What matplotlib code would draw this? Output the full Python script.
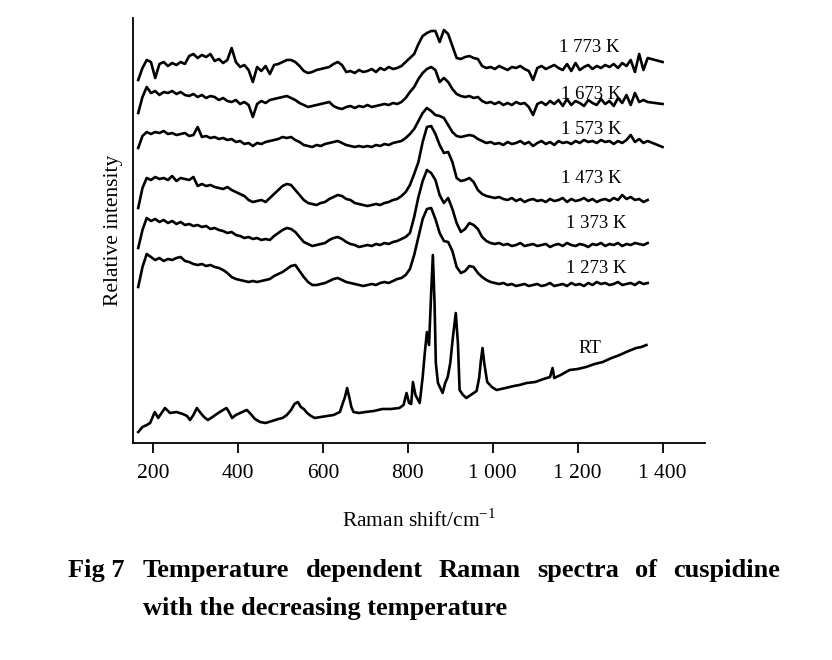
import matplotlib.pyplot as plt
import numpy as np

plt.rcParams['font.family'] = ['Liberation Serif', 'DejaVu Serif']

# Raman shift grid (cm-1) shared by the high temperature spectra
shift = np.arange(165, 1366, 10)

# intensities relative to each curve's own baseline
i1773 = [-12, 0, 8, 6, -10, 4, 6, 2, 5, 3,
         6, 4, 12, 14, 10, 13, 11, 14, 7, 9,
         5, 8, 20, 6, 1, 3, -2, -14, 1, -3,
         2, -6, 3, 4, 6, 8, 8, 6, 2, -3,
         -5, -4, -2, -1, 0, 1, 4, 6, 3, -4,
         -3, -5, -2, -4, -3, -1, -4, 0, -2, 1,
         -1, 0, 2, 6, 10, 14, 24, 32, 35, 37,
         37, 26, 38, 34, 22, 10, 9, 11, 12, 10,
         9, 2, 0, 1, -1, 2, 0, -2, 1, 0,
         2, -1, -3, -12, 0, 2, -1, 1, 3, 0,
         -2, 4, -3, 5, -2, 1, 3, -1, 2, 0,
         3, 1, 4, 0, 5, 2, 8, -4, 14, -2,
         10]
i1673 = [-10, 6, 16, 10, 12, 8, 11, 10, 12, 9,
         11, 8, 7, 9, 6, 8, 5, 7, 6, 3,
         5, 2, 1, 3, -1, 1, -2, -14, -1, 2,
         0, 3, 4, 5, 6, 7, 5, 3, 0, -2,
         -4, -3, -2, -1, 0, 1, -3, -5, -6, -4,
         -3, -5, -3, -4, -2, -4, -3, -2, -1, -2,
         0, -1, 1, 5, 11, 16, 24, 30, 34, 36,
         33, 21, 25, 21, 14, 9, 7, 6, 7, 5,
         6, 2, 0, 1, -1, 1, -2, 0, -2, 1,
         -1, 0, -4, -12, -1, 1, -2, 2, -1, 3,
         -3, 4, -2, 2, 0, -3, 3, 0, -2, 4,
         -1, 2, -3, 5, 0, 8, -2, 10, 1, 3,
         1]
i1573 = [-5, 7, 11, 9, 11, 10, 12, 9, 10, 8,
         9, 10, 7, 8, 16, 6, 7, 5, 6, 4,
         5, 3, 4, 1, 2, -1, 0, -3, 0, -1,
         1, 2, 3, 4, 6, 5, 6, 3, 1, -2,
         -3, -4, -2, -3, -1, 0, 1, 2, 0, -2,
         -3, -4, -3, -4, -3, -4, -2, -3, -1, -2,
         0, 1, 2, 5, 9, 14, 22, 30, 35, 32,
         28, 27, 25, 18, 11, 7, 6, 7, 8, 7,
         4, 2, 0, 1, -1, 0, -2, 1, -1, 0,
         2, -1, 1, -3, 0, 2, -1, 1, -2, 2,
         0, 1, -1, 2, 0, 3, 1, 2, 0, 3,
         1, 2, -1, 2, 0, 3, 8, 1, 4, 0,
         2]
i1473 = [-8, 12, 22, 20, 23, 21, 22, 20, 24, 19,
         22, 21, 20, 23, 14, 16, 14, 15, 13, 12,
         11, 13, 10, 8, 6, 4, 0, -2, -1, 0,
         -2, 2, 6, 10, 14, 16, 15, 10, 5, 0,
         -3, -4, -5, -3, -2, 1, 3, 5, 4, 1,
         0, -3, -4, -5, -6, -5, -4, -5, -3, -2,
         0, 1, 4, 8, 15, 26, 38, 58, 73, 74,
         66, 55, 47, 48, 38, 22, 19, 20, 22, 18,
         10, 6, 4, 3, 2, 3, 1, 0, 2, -1,
         1, -2, 0, 1, -1, 0, -2, 1, -1, 0,
         2, -2, 1, -1, 0, 2, -1, 1, -2, 0,
         1, -1, 2, 0, 5, 1, 3, 0, 1, -2,
         0]
i1373 = [-3, 15, 27, 24, 26, 23, 25, 22, 24, 21,
         23, 20, 21, 19, 20, 18, 19, 16, 17, 15,
         14, 12, 13, 10, 9, 7, 8, 6, 7, 5,
         6, 5, 9, 12, 15, 17, 16, 13, 8, 3,
         1, -1, 0, 1, 2, 5, 7, 8, 6, 3,
         1, 0, -2, -1, 0, -1, 1, 0, 2, 1,
         3, 4, 6, 8, 12, 28, 48, 64, 75, 72,
         65, 50, 42, 47, 36, 22, 13, 16, 22, 20,
         16, 8, 4, 2, 1, 2, 0, 1, -1, 0,
         2, -1, 0, 1, -1, 0, 1, -2, 0, 1,
         -1, 2, 0, -1, 1, 0, -2, 1, 0, 2,
         -1, 1, 0, 2, -1, 1, 0, 2, 1, 0,
         2]
i1273 = [-2, 18, 31, 28, 25, 27, 24, 26, 25, 27,
         28, 24, 23, 21, 20, 21, 19, 20, 18, 17,
         15, 12, 8, 6, 5, 4, 3, 4, 3, 4,
         5, 6, 9, 11, 13, 16, 19, 20, 14, 8,
         3, 0, 0, 1, 2, 4, 6, 7, 5, 3,
         2, 1, 0, -1, 0, 1, 0, 2, 3, 2,
         4, 6, 7, 10, 16, 30, 48, 66, 76, 77,
         66, 52, 44, 43, 34, 18, 12, 14, 19, 18,
         12, 8, 5, 3, 2, 1, 2, 0, 1, -1,
         0, 1, -1, 0, 1, -1, 0, 2, -1, 0,
         1, -1, 2, 0, 1, -1, 2, 0, 3, 1,
         2, 0, 1, 3, 0, 1, 2, 0, 3, 1,
         2]

# room temperature spectrum, own shift list because of the sharp peaks
rt_shift = [165, 175, 185, 193, 204, 212, 220, 228, 240, 255,
            270, 280, 287, 295, 303, 312, 320, 329, 340, 350,
            357, 365, 373, 380, 386, 395, 405, 415, 421, 430,
            440, 452, 465, 480, 495, 505, 515, 525, 533, 541,
            548, 555, 563, 572, 581, 595, 610, 625, 640, 647,
            652, 657, 662, 667, 672, 685, 700, 720, 740, 760,
            780, 790, 797, 803, 808, 812, 818, 828, 835, 840,
            845, 850, 855, 859, 863, 866, 871, 882, 888, 894,
            900, 906, 913, 918, 922, 930, 938, 948, 955, 962,
            968, 972, 976, 980, 987, 998, 1009, 1030, 1050, 1063,
            1080, 1100, 1120, 1135, 1141, 1145, 1160, 1181, 1200, 1220,
            1240, 1259, 1280, 1299, 1320, 1338, 1350, 1362]
rt_intensity = [11, 16, 18, 20, 31, 25, 30, 35, 30, 31,
                29, 27, 23, 28, 35, 30, 26, 23, 26, 29,
                31, 33, 35, 30, 25, 28, 30, 32, 33, 29,
                24, 21, 20, 22, 24, 25, 28, 33, 39, 41,
                36, 34, 30, 27, 25, 26, 27, 28, 31, 40,
                46, 55, 46, 36, 31, 30, 31, 32, 34, 34,
                35, 38, 50, 40, 39, 61, 48, 40, 66, 90,
                111, 98, 150, 188, 140, 80, 60, 50, 60, 66,
                80, 105, 130, 100, 53, 48, 45, 48, 50, 52,
                65, 82, 95, 80, 61, 56, 53, 55, 57, 58,
                60, 61, 64, 66, 75, 65, 68, 73, 74, 76,
                79, 81, 85, 88, 92, 95, 96, 98]

labels = ['1 773 K', '1 673 K', '1 573 K', '1 473 K', '1 373 K', '1 273 K']
curves = [i1773, i1673, i1573, i1473, i1373, i1273]
offsets = [375, 340, 300, 243, 198, 158]
# the three hottest spectra end with a straight segment out to 1400
tail_shift = 1400
tail_values = [6, -1, -4]

label_pos = [(1228, 396), (1233, 349), (1233, 314), (1233, 265),
             (1245, 220), (1245, 175)]
rt_label_pos = (1228, 95)

fig = plt.figure(figsize=(8.32, 6.6), dpi=100)
ax = fig.add_axes([132.7 / 832, 1 - 443 / 660, (705 - 132.7) / 832, 425 / 660])

for k, (vals, off) in enumerate(zip(curves, offsets)):
    xs = list(shift)
    ys = list(np.array(vals) + off)
    if k < len(tail_values):
        xs.append(tail_shift)
        ys.append(tail_values[k] + off)
    ax.plot(xs, ys, color='black', lw=1.9)
    ax.text(label_pos[k][0], label_pos[k][1], labels[k], fontsize=13.5,
            ha='center', va='center')

ax.plot(rt_shift, rt_intensity, color='black', lw=1.9)
ax.text(rt_label_pos[0], rt_label_pos[1], 'RT', fontsize=13.5,
        ha='center', va='center')

ax.set_xlim(152, 1500)
ax.set_ylim(0, 425)
ax.set_xticks([200, 400, 600, 800, 1000, 1200, 1400])
ax.set_xticklabels(['200', '400', '600', '800', '1 000', '1 200', '1 400'])
ax.set_yticks([])
ax.tick_params(axis='x', direction='out', length=7, width=1.3,
               labelsize=15.5, pad=8)
for side in ['top', 'right']:
    ax.spines[side].set_visible(False)
for side in ['left', 'bottom']:
    ax.spines[side].set_linewidth(1.3)

ax.set_xlabel('Raman shift/cm$^{\\mathregular{-1}}$', fontsize=15.5, labelpad=19)
ax.set_ylabel('Relative intensity', fontsize=15.5, labelpad=7)

# caption, first line justified between two edges
cap = dict(fontsize=19, fontweight='bold', va='baseline')
y1, y2 = 1 - 577 / 660, 1 - 615 / 660
fig.text(68 / 832, y1, 'Fig 7', **cap)
words = ['Temperature', 'dependent', 'Raman', 'spectra', 'of', 'cuspidine']
left, right = 143, 780
r = fig.canvas.get_renderer()
items = [fig.text(0, y1, w, **cap) for w in words]
widths = [t.get_window_extent(r).width for t in items]
gap = (right - left - sum(widths)) / (len(words) - 1)
x = left
for t, w in zip(items, widths):
    t.set_x(x / 832)
    x += w + gap
fig.text(143 / 832, y2, 'with the decreasing temperature', **cap)

fig.savefig('out.png', dpi=100)
